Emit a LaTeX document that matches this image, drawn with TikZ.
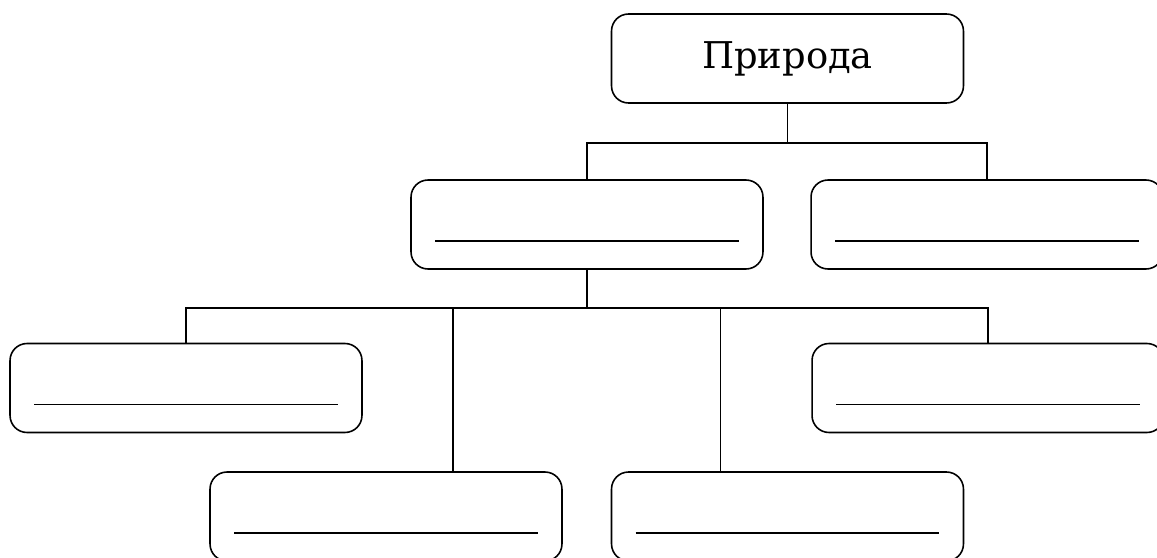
\documentclass[tikz,border=0pt]{standalone}
\usepackage{fontspec}
\setmainfont{DejaVu Serif}
\usetikzlibrary{calc}
\usetikzlibrary{positioning}

\tikzset{
    box/.style={draw, rounded corners=0.34cm, line width=0.9pt,
        minimum width=7.04cm, minimum height=1.78cm, inner sep=0pt, outer sep=0pt},
    link/.style={line width=0.9pt},
    blank/.style={line width=1pt}
}

\begin{document}
\begin{tikzpicture}[x=0.02cm, y=-0.02cm]
            % Frame of the page
            \useasboundingbox (0,0) rectangle (1157,558);
            
            % Top box
            \node[box] (nature) at (787.5,58.5) {\fontsize{21}{25}\selectfont Природа};
            
            % Second row
            \node[box] (midleft) at (587,224.5) {};
            \node[box] (midright) at (987,224.5) {};
            
            % Third and fourth rows
            \node[box] (lowleft) at (186,388) {};
            \node[box] (lowright) at (988,388) {};
            \node[box] (botleft) at (386,516.5) {};
            \node[box] (botright) at (787.5,516.5) {};
            
            % Write-in lines
            \foreach \b in {midleft, midright, lowleft, lowright, botleft, botright}
                \draw[blank] ($(\b.south west)+(24,-28)$) -- ($(\b.south east)+(-24,-28)$);
            
            % Links from the top box
            \draw[link] (nature.south) -- ++(0,40) coordinate (busA);
            \draw[link] (midleft.north) |- (busA) -| (midright.north);
            
            % Links from the second row
            \draw[link] (midleft.south) -- ++(0,39) coordinate (busB);
            \draw[link] (lowleft.north) |- (busB) -| (lowright.north);
            \coordinate (tapL) at ($(botleft.north west)+(243,0)$);
            \coordinate (tapR) at ($(botright.north west)+(109,0)$);
            \draw[link] (tapL) -- (tapL |- busB);
            \draw[link] (tapR) -- (tapR |- busB);
            
        \end{tikzpicture}
\end{document}
